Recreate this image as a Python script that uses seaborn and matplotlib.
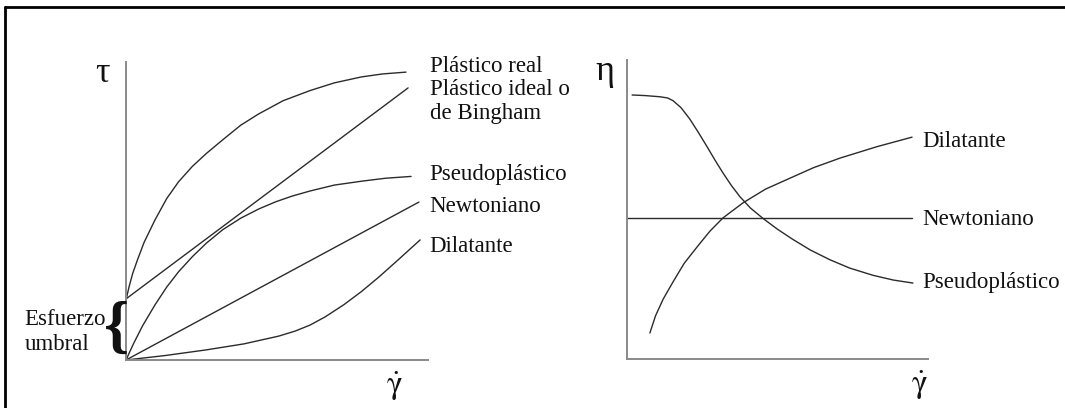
import matplotlib
matplotlib.use("Agg")
import matplotlib.pyplot as plt
from matplotlib.lines import Line2D
import seaborn as sns

# --- Shear stress vs. shear rate (flow curves) ---
real_x = [0, 0.1, 0.22, 0.38, 0.6, 0.96, 1.35, 1.74, 2.2, 2.66, 3.24, 3.8,
          4.38, 5.2, 6.09, 6.9, 7.8, 8.5, 9.27]
real_y = [2.01, 2.45, 2.9, 3.36, 3.95, 4.70, 5.42, 5.98, 6.5, 6.93, 7.42, 7.88,
          8.25, 8.7, 9.04, 9.3, 9.50, 9.6, 9.66]
bingham_x = [0, 9.34]
bingham_y = [2.05, 9.13]
pseudo_x = [0, 0.25, 0.55, 0.96, 1.35, 1.74, 2.2, 2.66, 3.2, 3.8, 4.4, 4.96,
            5.5, 6.09, 6.9, 7.8, 8.6, 9.44]
pseudo_y = [0, 0.55, 1.15, 1.85, 2.45, 2.96, 3.47, 3.92, 4.37, 4.76, 5.07, 5.31,
            5.5, 5.67, 5.87, 6.0, 6.1, 6.16]
newton_x = [0, 9.70]
newton_y = [0, 5.30]
dilat_x = [0, 1.3, 2.66, 3.9, 5.05, 5.6, 6.09, 6.6, 7.22, 7.8, 8.38, 9.0, 9.74]
dilat_y = [0, 0.15, 0.34, 0.54, 0.8, 0.97, 1.17, 1.45, 1.86, 2.3, 2.79, 3.35, 4.03]

# --- Viscosity vs. shear rate ---
eta_newton_x = [0, 9.47]
eta_newton_y = [4.72, 4.72]
eta_pseudo_x = [0.17, 0.6, 1.10, 1.35, 1.53, 1.8, 2.09, 2.37, 2.66, 2.93, 3.19,
                3.47, 3.75, 4.1, 4.52, 5.0, 5.51, 6.1, 6.74, 7.4, 8.17, 8.85, 9.50]
eta_pseudo_y = [8.83, 8.81, 8.77, 8.73, 8.64, 8.4, 8.02, 7.58, 7.1, 6.64, 6.22,
                5.8, 5.43, 5.05, 4.70, 4.34, 4.0, 3.64, 3.32, 3.04, 2.8, 2.64, 2.54]
eta_dilat_x = [0.76, 0.95, 1.2, 1.53, 1.9, 2.33, 2.75, 3.19, 3.85, 4.6, 5.42,
               6.2, 7.08, 8.3, 9.47]
eta_dilat_y = [0.87, 1.45, 2.0, 2.58, 3.2, 3.75, 4.27, 4.72, 5.22, 5.68, 6.05,
               6.4, 6.72, 7.1, 7.42]

left_labels = ["Plástico real", "Plástico ideal o", "de Bingham",
               "Pseudoplástico", "Newtoniano", "Dilatante"]
left_label_y = [9.66, 8.89, 8.09, 6.04, 4.97, 3.62]
right_labels = ["Dilatante", "Newtoniano", "Pseudoplástico"]
right_label_y = [7.09, 4.48, 2.37]

sns.set_theme(style="white")
plt.rcParams["font.family"] = ["Liberation Serif", "DejaVu Serif"]
plt.rcParams["mathtext.fontset"] = "stix"

W, H = 1065, 408
fig = plt.figure(figsize=(W / 100, H / 100), dpi=100)
fig.patch.set_facecolor("white")


def px_axes(left, right, top, bottom):
    return fig.add_axes([left / W, 1 - bottom / H, (right - left) / W, (bottom - top) / H])


ax1 = px_axes(126, 428, 62, 360)
ax2 = px_axes(627, 928, 60, 359)

curve_kw = dict(color="#2b2b2b", linewidth=1.0, estimator=None, sort=False)
for xs, ys in [(real_x, real_y), (bingham_x, bingham_y), (pseudo_x, pseudo_y),
               (newton_x, newton_y), (dilat_x, dilat_y)]:
    sns.lineplot(x=xs, y=ys, ax=ax1, **curve_kw)
for xs, ys in [(eta_newton_x, eta_newton_y), (eta_pseudo_x, eta_pseudo_y),
               (eta_dilat_x, eta_dilat_y)]:
    sns.lineplot(x=xs, y=ys, ax=ax2, **curve_kw)

for ax in (ax1, ax2):
    ax.set_xlim(0, 10)
    ax.set_ylim(0, 10)
    ax.set_xticks([])
    ax.set_yticks([])
    ax.patch.set_alpha(0)
    for side in ("top", "right"):
        ax.spines[side].set_visible(False)
    for side in ("left", "bottom"):
        ax.spines[side].set_color("#8a8a8a")
        ax.spines[side].set_linewidth(1.4)

label_fs = 16.5
for text, y in zip(left_labels, left_label_y):
    ax1.text(10.05, y, text, fontsize=label_fs, va="baseline", ha="left",
             color="#111111", clip_on=False)
for text, y in zip(right_labels, right_label_y):
    ax2.text(9.80, y, text, fontsize=label_fs, va="baseline", ha="left",
             color="#111111", clip_on=False)

# axis symbols
ax1.text(-0.77, 9.6, "τ", fontsize=26, ha="center", va="center", color="#111111", clip_on=False)
ax2.text(-0.73, 9.6, "η", fontsize=26, ha="center", va="center", color="#111111", clip_on=False)
ax1.text(8.9, -0.9, r"$\dot{\mathrm{\gamma}}$", fontsize=24, ha="center", va="center",
         color="#111111", clip_on=False)
ax2.text(9.7, -0.9, r"$\dot{\mathrm{\gamma}}$", fontsize=24, ha="center", va="center",
         color="#111111", clip_on=False)

# yield stress note with brace
ax1.text(-3.37, 1.18, "Esfuerzo", fontsize=label_fs, va="baseline", ha="left",
         color="#111111", clip_on=False)
ax1.text(-3.37, 0.34, "umbral", fontsize=label_fs, va="baseline", ha="left",
         color="#111111", clip_on=False)
ax1.text(-0.3, 1.02, "{", fontsize=46, ha="center", va="center", color="#111111",
         fontweight="bold", clip_on=False)

# frame lines at the top and left of the figure
fig.add_artist(Line2D([5 / W, 1], [1 - 7 / H, 1 - 7 / H], color="black", linewidth=2.0))
fig.add_artist(Line2D([5 / W, 5 / W], [0, 1 - 7 / H], color="black", linewidth=2.0))

fig.savefig("out.png", dpi=100)
